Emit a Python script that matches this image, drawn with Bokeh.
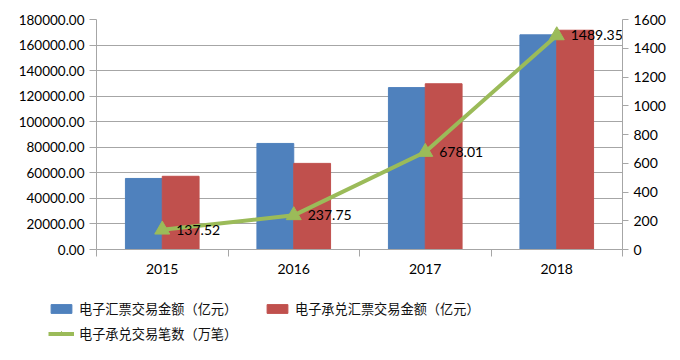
from bokeh.plotting import figure
from bokeh.models import (Range1d, LinearAxis, FixedTicker, NumeralTickFormatter,
                          Legend, LegendItem, ColumnDataSource)
from bokeh.layouts import column
from bokeh.core.properties import value
from bokeh.embed import file_html
from bokeh.resources import INLINE

years = ["2015", "2016", "2017", "2018"]
draft_amount = [55600, 83000, 126700, 168000]      # 电子汇票交易金额（亿元）
accept_amount = [57300, 67400, 129700, 171600]     # 电子承兑汇票交易金额（亿元）
accept_count = [137.52, 237.75, 678.01, 1489.35]   # 电子承兑交易笔数（万笔）
left_ticks = [0, 20000, 40000, 60000, 80000, 100000, 120000, 140000, 160000, 180000]
right_ticks = [0, 200, 400, 600, 800, 1000, 1200, 1400, 1600]
series_names = ["电子汇票交易金额（亿元）", "电子承兑汇票交易金额（亿元）", "电子承兑交易笔数（万笔）"]

FONT = "Lato"
CJK = "Noto Sans CJK SC"
GRID = "#a6a6a6"
TXT = "#000000"
BLUE, RED, GREEN = "#4F81BD", "#C0504D", "#9BBB59"

centers = [i + 0.5 for i in range(len(years))]
bw = 0.28
src = ColumnDataSource(dict(
    xb=[c - bw / 2 for c in centers],
    xr=[c + bw / 2 for c in centers],
    blue=draft_amount, red=accept_amount,
    xc=centers, cnt=accept_count,
    lbl=["%.2f" % v for v in accept_count],
))

p = figure(width=680, height=290, output_backend="svg", toolbar_location=None,
           x_range=Range1d(0, len(years)), y_range=Range1d(0, 180000),
           min_border_left=96, min_border_right=58, min_border_top=19,
           min_border_bottom=41)
p.frame_align = False
p.outline_line_color = None
p.extra_y_ranges = {"cnt": Range1d(0, 1600)}

p.vbar(x="xb", top="blue", width=bw, source=src, color=BLUE)
p.vbar(x="xr", top="red", width=bw, source=src, color=RED)
p.line(x="xc", y="cnt", source=src, y_range_name="cnt", line_color=GREEN, line_width=4)
p.scatter(x="xc", y="cnt", source=src, y_range_name="cnt", marker="triangle",
          size=15, fill_color=GREEN, line_color=GREEN)
p.text(x="xc", y="cnt", text="lbl", source=src, y_range_name="cnt",
       x_offset=14, text_align="left", text_baseline="middle",
       text_font=value(FONT), text_font_size="14px", text_color=TXT)

# left axis
ya = p.yaxis[0]
ya.ticker = FixedTicker(ticks=left_ticks)
ya.formatter = NumeralTickFormatter(format="0.00")
ya.axis_line_color = GRID
ya.major_tick_line_color = GRID
ya.major_tick_out = 7
ya.major_tick_in = 0
ya.minor_tick_line_color = None
ya.major_label_text_font = FONT
ya.major_label_text_font_size = "13.5px"
ya.major_label_text_color = TXT
ya.major_label_standoff = 5

# right axis
ra = LinearAxis(y_range_name="cnt", ticker=FixedTicker(ticks=right_ticks))
ra.axis_line_color = GRID
ra.major_tick_line_color = GRID
ra.major_tick_out = 6
ra.major_tick_in = 0
ra.minor_tick_line_color = None
ra.major_label_text_font = FONT
ra.major_label_text_font_size = "14px"
ra.major_label_text_color = TXT
ra.major_label_standoff = 5
p.add_layout(ra, "right")

# x axis
xa = p.xaxis[0]
xa.ticker = FixedTicker(ticks=centers, minor_ticks=list(range(len(years) + 1)))
xa.major_label_overrides = {c: y for c, y in zip(centers, years)}
xa.axis_line_color = GRID
xa.major_tick_line_color = None
xa.minor_tick_line_color = GRID
xa.minor_tick_out = 7
xa.minor_tick_in = 0
xa.major_label_text_font = FONT
xa.major_label_text_font_size = "14px"
xa.major_label_text_color = TXT
xa.major_label_standoff = 7

p.xgrid.grid_line_color = None
p.ygrid.ticker = FixedTicker(ticks=left_ticks)
p.ygrid.grid_line_color = GRID

# legend strip below the chart (proxy glyphs sit outside its visible range)
lp = figure(width=680, height=70, output_backend="svg", toolbar_location=None,
            x_range=Range1d(0, 1), y_range=Range1d(0, 1),
            x_axis_location=None, y_axis_location=None,
            min_border=0, min_border_left=0, min_border_right=0,
            min_border_top=0, min_border_bottom=0)
lp.frame_align = False
lp.grid.visible = False
lp.outline_line_color = None
proxy = ColumnDataSource(dict(x=[-10], y=[-10]))
lb = lp.vbar(x="x", top="y", width=0.1, source=proxy, color=BLUE)
lr = lp.vbar(x="x", top="y", width=0.1, source=proxy, color=RED)
ll = lp.line(x="x", y="y", source=proxy, line_color=GREEN, line_width=4)
lm = lp.scatter(x="x", y="y", source=proxy, marker="triangle", size=11,
                fill_color=GREEN, line_color=GREEN)

legend = Legend(items=[
    LegendItem(label=series_names[0], renderers=[lb]),
    LegendItem(label=series_names[1], renderers=[lr]),
    LegendItem(label=series_names[2], renderers=[ll, lm]),
], location=(48, 17), ncols=2, orientation="horizontal",
    label_text_font=CJK, label_text_font_size="13.2px", label_text_color="#111111",
    glyph_width=26, glyph_height=11, label_standoff=5, spacing=6,
    label_width=179, label_height=18,
    padding=4, margin=0, border_line_color=None, background_fill_alpha=0)
lp.add_layout(legend, "center")

layout = column(p, lp, spacing=0)
open("out.html", "w").write(file_html(layout, INLINE))
